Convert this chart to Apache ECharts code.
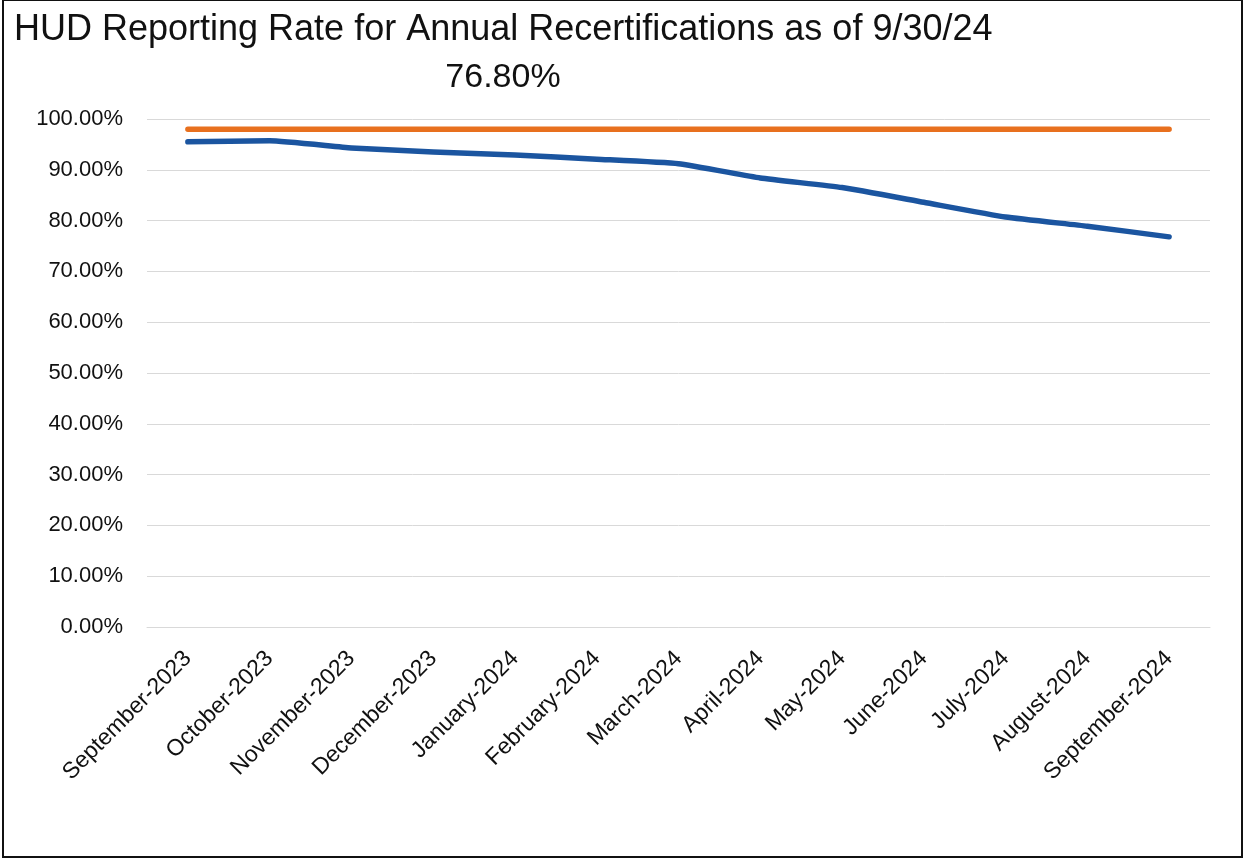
<!DOCTYPE html>
<html>
<head>
<meta charset="utf-8">
<script src="https://cdn.jsdelivr.net/npm/echarts@6/dist/echarts.min.js"></script>
<style>
  html, body { margin: 0; padding: 0; background: #fff; }
  .frame {
    position: absolute;
    left: 2px; top: 0px;
    width: 1237px; height: 855px;
    border: 2px solid #111;
    border-top-width: 1px;
  }
  #main { position: absolute; left: 0; top: 0; width: 1247px; height: 861px; }
</style>
</head>
<body>
<div class="frame"></div>
<div id="main"></div>
<script>
// 月份分类
const months = ['September-2023', 'October-2023', 'November-2023', 'December-2023',
  'January-2024', 'February-2024', 'March-2024', 'April-2024', 'May-2024',
  'June-2024', 'July-2024', 'August-2024', 'September-2024'];
// 实际上报率 (%)
const reportingRate = [95.5, 95.7, 94.3, 93.5, 92.9, 92.1, 91.2, 88.4, 86.5, 83.6, 80.7, 78.9, 76.8];
// 目标线 (%)
const targetRate = [98, 98, 98, 98, 98, 98, 98, 98, 98, 98, 98, 98, 98];
const titleText = 'HUD Reporting Rate for Annual Recertifications as of 9/30/24';
const subText = '76.80%';

var myChart = echarts.init(document.getElementById('main'));
myChart.setOption({
  animation: false,
  title: [
    {
      text: titleText,
      left: 9, top: 7,
      textStyle: { fontFamily: 'Liberation Sans', fontWeight: 'normal', fontSize: 36, color: '#111' }
    },
    {
      text: subText,
      left: 498, top: 56, textAlign: 'center',
      textStyle: { fontFamily: 'Liberation Sans', fontWeight: 'normal', fontSize: 34, color: '#111' }
    }
  ],
  legend: { show: false },
  grid: { left: 147, right: 37, top: 119, bottom: 234, containLabel: false },
  xAxis: {
    type: 'category',
    data: months,
    axisTick: { show: false },
    axisLine: { show: true, lineStyle: { color: '#d9d9d9', width: 1 } },
    axisLabel: {
      interval: 0,
      rotate: 45,
      margin: 28,
      fontFamily: 'Liberation Sans',
      fontSize: 23,
      color: '#111'
    }
  },
  yAxis: {
    type: 'value',
    min: 0, max: 100, interval: 10,
    axisLine: { show: false },
    axisTick: { show: false },
    splitLine: { lineStyle: { color: '#d9d9d9', width: 1 } },
    axisLabel: {
      margin: 24,
      fontFamily: 'Liberation Sans',
      fontSize: 22,
      color: '#111',
      formatter: function (value) {
        return value.toFixed(2) + '%';
      }
    }
  },
  series: [
    {
      name: 'Target',
      type: 'line',
      data: targetRate,
      showSymbol: false,
      lineStyle: { color: '#E8701E', width: 5.5, cap: 'round' },
      itemStyle: { color: '#E8701E' }
    },
    {
      name: 'Reporting Rate',
      type: 'line',
      data: reportingRate,
      showSymbol: false,
      smooth: 0.15,
      lineStyle: { color: '#1B55A0', width: 5.5, cap: 'round', join: 'round' },
      itemStyle: { color: '#1B55A0' }
    }
  ]
});
</script>
</body>
</html>
